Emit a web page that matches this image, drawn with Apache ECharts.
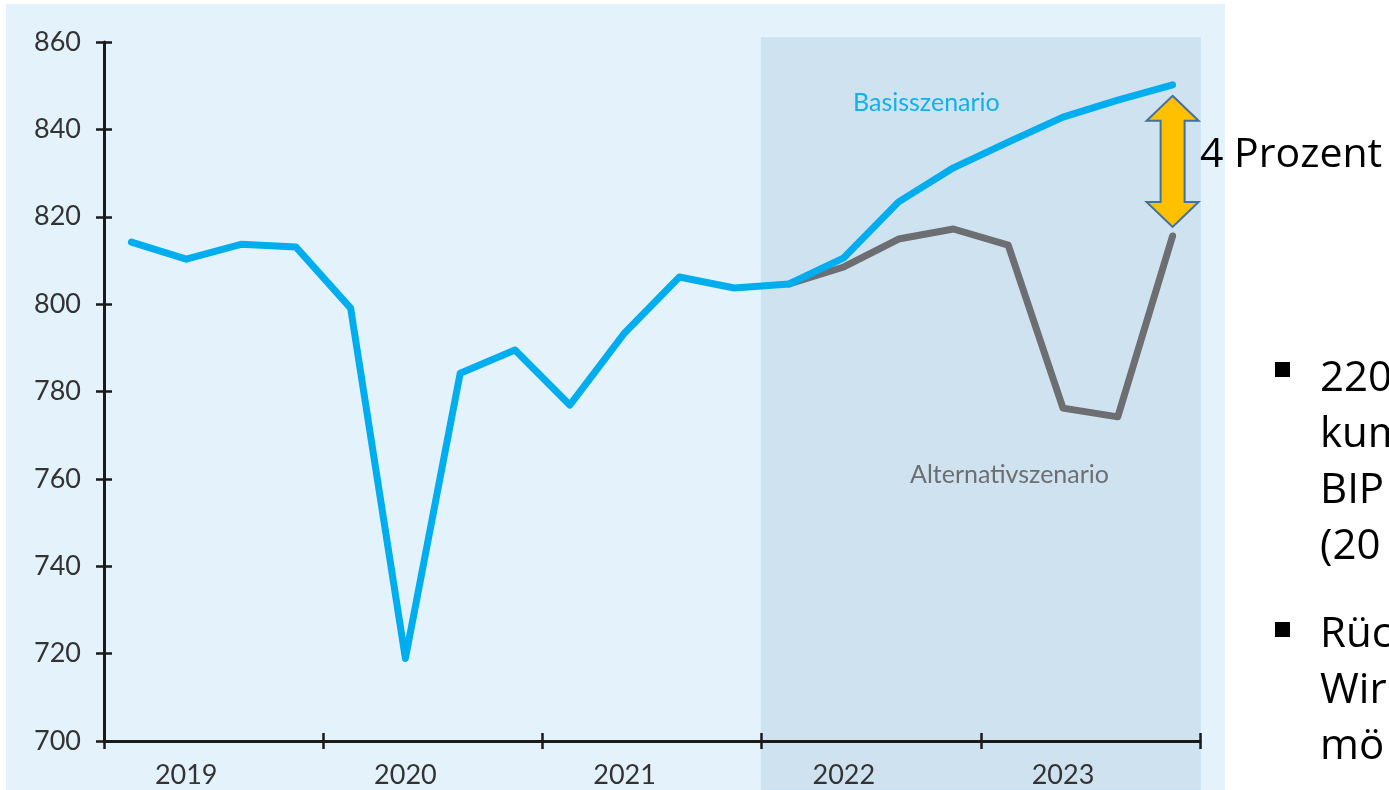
<!DOCTYPE html>
<html>
<head>
<meta charset="utf-8">
<script src="https://cdn.jsdelivr.net/npm/echarts@6/dist/echarts.min.js"></script>
<style>
  html, body { margin: 0; padding: 0; background: #fff; }
  #chart { width: 1389px; height: 790px; }
</style>
</head>
<body>
<div id="chart"></div>
<script>
// quarters 2019Q1 .. 2023Q4
var quarters = ['2019Q1','2019Q2','2019Q3','2019Q4','2020Q1','2020Q2','2020Q3','2020Q4',
                '2021Q1','2021Q2','2021Q3','2021Q4','2022Q1','2022Q2','2022Q3','2022Q4',
                '2023Q1','2023Q2','2023Q3','2023Q4'];
var years = ['2019','2020','2021','2022','2023'];
var yTicks = [700, 860, 20]; // min, max, step

var basis = [814.2, 810.3, 813.7, 813.1, 799.1, 718.9, 784.2, 789.5,
             776.9, 793.4, 806.2, 803.7, 804.6, 810.6, 823.4, 831.2,
             837.1, 842.8, 846.7, 850.2];
var alternativ = [null, null, null, null, null, null, null, null,
                  null, null, null, null, 804.6, 808.5, 814.9, 817.2,
                  813.5, 776.2, 774.2, 815.6];

var bulletLines1 = ['220', 'kum', 'BIP', '(20'];
var bulletLines2 = ['Rüc', 'Wir', 'mö'];

var axisColor = '#1a1a1a';
var font = 'Lato';

var option = {
    backgroundColor: '#ffffff',
    animation: false,
    grid: { left: 104, right: 189, top: 42, bottom: 49 },
    xAxis: [
        {
            // quarter axis: carries the data, year label under the 2nd quarter
            type: 'category', data: quarters, boundaryGap: true, position: 'bottom',
            axisLine: { show: false },
            axisTick: { show: false },
            axisLabel: {
                color: '#333', fontFamily: font, fontSize: 27, margin: 21,
                interval: function (idx) { return idx % 4 === 1; },
                formatter: function (v) { return v.substr(0, 4); }
            },
            splitLine: { show: false }
        },
        {
            type: 'category', data: years, boundaryGap: true, position: 'bottom',
            axisLine: { show: true, lineStyle: { color: axisColor, width: 3 } },
            axisTick: { show: true, interval: 0, length: 8, lineStyle: { color: axisColor, width: 2.5 } },
            axisLabel: { show: false },
            splitLine: { show: false }
        },
        {
            type: 'category', data: years, boundaryGap: true, position: 'bottom',
            axisLine: { show: false },
            axisTick: { show: true, interval: 0, inside: true, length: 8, lineStyle: { color: axisColor, width: 2.5 } },
            axisLabel: { show: false },
            splitLine: { show: false }
        }
    ],
    yAxis: [
        {
            type: 'value', min: yTicks[0], max: yTicks[1], interval: yTicks[2],
            axisLine: { show: true, lineStyle: { color: axisColor, width: 3 } },
            axisTick: { show: true, length: 8, lineStyle: { color: axisColor, width: 2.5 } },
            axisLabel: { color: '#333', fontFamily: font, fontSize: 27, margin: 23 },
            splitLine: { show: false }
        },
        {
            type: 'value', min: yTicks[0], max: yTicks[1], interval: yTicks[2], position: 'left',
            axisLine: { show: false },
            axisTick: { show: true, inside: true, length: 8, lineStyle: { color: axisColor, width: 2.5 } },
            axisLabel: { show: false },
            splitLine: { show: false }
        }
    ],
    series: [
        {
            name: 'Alternativszenario', type: 'line', data: alternativ,
            xAxisIndex: 0, yAxisIndex: 0, z: 3,
            showSymbol: false, symbol: 'none',
            lineStyle: { color: '#6d6e71', width: 7, cap: 'round', join: 'round' }
        },
        {
            name: 'Basisszenario', type: 'line', data: basis,
            xAxisIndex: 0, yAxisIndex: 0, z: 4,
            showSymbol: false, symbol: 'none',
            lineStyle: { color: '#00aeef', width: 7, cap: 'round', join: 'round' }
        }
    ]
};

var chart = echarts.init(document.getElementById('chart'));
chart.setOption(option);

// decorations placed from the axes' own scales
var xFirst = chart.convertToPixel({ xAxisIndex: 1 }, years[3]);
var xNext = chart.convertToPixel({ xAxisIndex: 1 }, years[4]);
var band = xNext - xFirst;
var shadeLeft = xFirst - band / 2;
var shadeRight = xNext + band / 2;
var yTopAxis = chart.convertToPixel({ yAxisIndex: 0 }, yTicks[1]);

var xa = chart.convertToPixel({ xAxisIndex: 0 }, quarters[quarters.length - 1]);
var yA = chart.convertToPixel({ yAxisIndex: 0 }, basis[basis.length - 1]) + 11;
var yB = chart.convertToPixel({ yAxisIndex: 0 }, alternativ[alternativ.length - 1]) - 9;
var headW = 26, shaftW = 12, headH = 25;

var graphics = [
    { type: 'rect', z: -20, silent: true,
      shape: { x: 6, y: 4, width: 1219, height: 786 },
      style: { fill: '#e4f3fb' } },
    { type: 'rect', z: -10, silent: true,
      shape: { x: shadeLeft, y: yTopAxis - 4, width: shadeRight - shadeLeft, height: 790 - yTopAxis + 4 },
      style: { fill: '#cfe2f0', stroke: '#c6e4f6', lineWidth: 1.5 } },
    { type: 'text', z: 10, left: 853, top: 90,
      style: { text: 'Basisszenario', fill: '#12b0ec', font: '25px Lato' } },
    { type: 'text', z: 10, left: 910, top: 462,
      style: { text: 'Alternativszenario', fill: '#6d6e71', font: '25px Lato' } },
    { type: 'polygon', z: 20,
      shape: { points: [
          [xa, yA], [xa + headW, yA + headH], [xa + shaftW, yA + headH],
          [xa + shaftW, yB - headH], [xa + headW, yB - headH], [xa, yB],
          [xa - headW, yB - headH], [xa - shaftW, yB - headH], [xa - shaftW, yA + headH],
          [xa - headW, yA + headH]
      ] },
      style: { fill: '#ffc000', stroke: '#41719c', lineWidth: 2 } },
    { type: 'text', z: 20, left: 1200, top: 135,
      style: { text: '4 Prozent', fill: '#000', font: '41px "Open Sans"' } }
];

function addBullet(lines, y0, textTop) {
    graphics.push({ type: 'rect', z: 20, shape: { x: 1275, y: y0 - 8, width: 15, height: 15 },
                    style: { fill: '#000' } });
    for (var i = 0; i < lines.length; i++) {
        graphics.push({ type: 'text', z: 20, left: 1320, top: textTop + i * 56,
                        style: { text: lines[i], fill: '#000', font: '42px "Open Sans"' } });
    }
}
addBullet(bulletLines1, 370, 358);
addBullet(bulletLines2, 630, 614);

chart.setOption({ graphic: graphics });
</script>
</body>
</html>
